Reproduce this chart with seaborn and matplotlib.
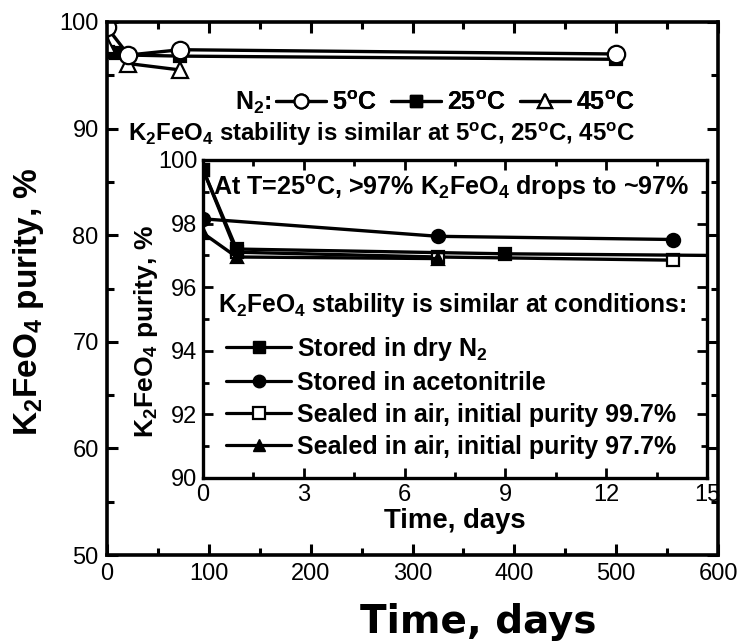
import matplotlib
matplotlib.use("Agg")
import matplotlib.pyplot as plt
import seaborn as sns
from matplotlib.lines import Line2D
from matplotlib.ticker import MultipleLocator

# ---------------- data ----------------
# main plot: K2FeO4 stored under N2 at three temperatures (time in days)
n2_5c_days = [0, 21, 72, 500]
n2_5c_purity = [99.5, 96.9, 97.4, 97.0]
n2_25c_days = [0, 1, 9, 21, 72, 500]
n2_25c_purity = [99.7, 97.2, 97.05, 96.9, 96.8, 96.5]
n2_45c_days = [0, 21, 72]
n2_45c_purity = [97.8, 96.1, 95.5]

# inset: first two weeks at 25 C
dry_n2_days = [0, 1, 9, 21]
dry_n2_purity = [99.7, 97.2, 97.05, 96.95]
acn_days = [0, 7, 14]
acn_purity = [98.15, 97.6, 97.5]
air997_days = [0, 1, 7, 14]
air997_purity = [99.7, 97.1, 96.95, 96.85]
air977_days = [0, 1, 7]
air977_purity = [97.7, 96.95, 96.9]

main_xticks = [0, 100, 200, 300, 400, 500, 600]
main_yticks = [50, 60, 70, 80, 90, 100]
inset_xticks = [0, 3, 6, 9, 12, 15]
inset_yticks = [90, 92, 94, 96, 98, 100]

# ---------------- style ----------------
sns.set_theme(style="ticks")
plt.rcParams["font.family"] = ["Liberation Sans", "DejaVu Sans"]
plt.rcParams["mathtext.default"] = "regular"
for k in ["text.color", "axes.labelcolor", "xtick.color", "ytick.color", "axes.edgecolor"]:
    plt.rcParams[k] = "black"

W, H = 744, 641
fig = plt.figure(figsize=(W / 100, H / 100), dpi=100)


def px_axes(l, t, r, b):
    return [l / W, 1 - b / H, (r - l) / W, (b - t) / H]


ax = fig.add_axes(px_axes(107, 22, 718, 555))
axi = fig.add_axes(px_axes(203, 160, 707, 478))


def draw(axis, x, y, marker, filled, ms, lw=2.4):
    sns.lineplot(x=x, y=y, ax=axis, color="black", linewidth=lw, marker=marker,
                 markersize=ms, markerfacecolor="black" if filled else "white",
                 markeredgecolor="black", markeredgewidth=1.6, sort=False,
                 estimator=None, legend=False, clip_on=True)


# main series
draw(ax, n2_25c_days, n2_25c_purity, "s", True, 8.5)
draw(ax, n2_45c_days, n2_45c_purity, "^", False, 12)
draw(ax, n2_5c_days, n2_5c_purity, "o", False, 12.5)

ax.set_xlim(0, 600)
ax.set_ylim(50, 100)
ax.set_xticks(main_xticks)
ax.set_yticks(main_yticks)
ax.xaxis.set_minor_locator(MultipleLocator(50))
ax.yaxis.set_minor_locator(MultipleLocator(5))
ax.set_xlabel("")
ax.set_ylabel(r"K$_2$FeO$_4$ purity, %", fontsize=24, fontweight="bold")
ax.yaxis.set_label_coords(-0.10, 0.475)
for sp in ax.spines.values():
    sp.set_linewidth(2.6)
    sp.set_visible(True)
ax.tick_params(which="both", direction="in", top=True, right=True, width=2.2,
               labelsize=17, pad=6)
ax.tick_params(which="major", length=8)
ax.tick_params(which="minor", length=5)

fig.text(478 / W, 1 - 622 / H, "Time, days", fontsize=28, fontweight="bold",
         ha="center", va="center", family=["DejaVu Sans"])

# N2 legend
fig.text(235 / W, 1 - 103 / H, r"N$_2$:", fontsize=18, fontweight="bold",
         ha="left", va="center")
h5 = Line2D([], [], color="black", lw=2.3, marker="o", ms=10, mfc="white", mec="black", mew=1.6)
h25 = Line2D([], [], color="black", lw=2.3, marker="s", ms=9, mfc="black", mec="black")
h45 = Line2D([], [], color="black", lw=2.3, marker="^", ms=10, mfc="white", mec="black", mew=1.6)
leg1 = ax.legend([h5, h25, h45], [r"5$^o$C", r"25$^o$C", r"45$^o$C"], ncol=3,
                 frameon=False, loc="center left",
                 bbox_to_anchor=((276 - 107) / 611, (555 - 103) / 533),
                 handlelength=2.0, handletextpad=0.25, columnspacing=0.55,
                 borderaxespad=0, borderpad=0,
                 prop={"size": 18, "weight": "bold"})
ax.add_artist(leg1)
fig.text(128 / W, 1 - 134 / H, r"K$_2$FeO$_4$ stability is similar at 5$^o$C, 25$^o$C, 45$^o$C",
         fontsize=17.3, fontweight="bold", ha="left", va="center")

# inset series
draw(axi, air997_days, air997_purity, "s", False, 8.5)
draw(axi, air977_days, air977_purity, "^", True, 8.5)
draw(axi, acn_days, acn_purity, "o", True, 9.5)
draw(axi, dry_n2_days, dry_n2_purity, "s", True, 8.5)

axi.set_facecolor("white")
axi.set_xlim(0, 15)
axi.set_ylim(90, 100)
axi.set_xticks(inset_xticks)
axi.set_yticks(inset_yticks)
axi.xaxis.set_minor_locator(MultipleLocator(1.5))
axi.yaxis.set_minor_locator(MultipleLocator(1))
axi.set_xlabel("Time, days", fontsize=19.8, fontweight="bold", labelpad=2)
axi.set_ylabel(r"K$_2$FeO$_4$ purity, %", fontsize=19, fontweight="bold")
axi.yaxis.set_label_coords(-0.085, 0.46)
for sp in axi.spines.values():
    sp.set_linewidth(2.4)
    sp.set_visible(True)
axi.tick_params(which="both", direction="in", top=True, right=True, width=2.0,
                labelsize=17, pad=4)
axi.tick_params(which="major", length=7)
axi.tick_params(which="minor", length=4)

axi.text(0.02, 0.915, r"At T=25$^o$C, >97% K$_2$FeO$_4$ drops to ~97%",
         transform=axi.transAxes, fontsize=18.1, fontweight="bold", ha="left", va="center")
axi.text(0.03, 0.545, r"K$_2$FeO$_4$ stability is similar at conditions:",
         transform=axi.transAxes, fontsize=17.7, fontweight="bold", ha="left", va="center")

hd = Line2D([], [], color="black", lw=2.3, marker="s", ms=8, mfc="black", mec="black")
ha_ = Line2D([], [], color="black", lw=2.3, marker="o", ms=9, mfc="black", mec="black")
h97 = Line2D([], [], color="black", lw=2.3, marker="s", ms=8, mfc="white", mec="black", mew=1.6)
h77 = Line2D([], [], color="black", lw=2.3, marker="^", ms=8, mfc="black", mec="black")
axi.legend([hd, ha_, h97, h77],
           [r"Stored in dry N$_2$", "Stored in acetonitrile",
            "Sealed in air, initial purity 99.7%", "Sealed in air, initial purity 97.7%"],
           loc="upper left", bbox_to_anchor=((226 - 203) / 504, 1 - (335 - 160) / 318),
           frameon=False, handlelength=2.6, handletextpad=0.25, labelspacing=0.32,
           borderaxespad=0, borderpad=0, prop={"size": 18, "weight": "bold"})

fig.savefig("out.png", dpi=100)
